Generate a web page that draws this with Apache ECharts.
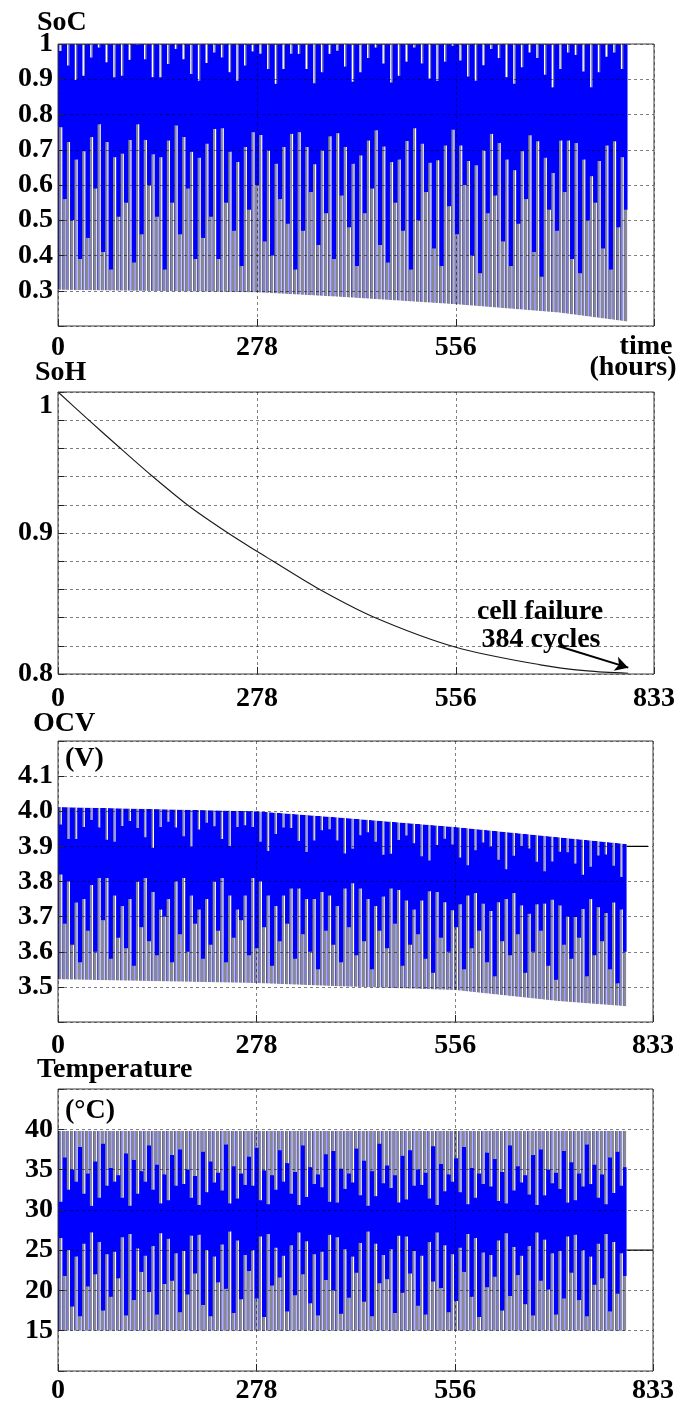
<!DOCTYPE html>
<html><head><meta charset="utf-8">
<script src="https://cdn.jsdelivr.net/npm/echarts@6/dist/echarts.min.js"></script>
<style>html,body{margin:0;padding:0;background:#fff}#c{width:679px;height:1407px}</style>
</head><body><div id="c"></div>
<script>
// ---------------- DATA ----------------
const xTicks = [0, 278, 556, 833];
// cycle stripes: one entry per visible cycle
const cycleStart = 3, cycleStep = 10.75;

// SoC
const socUpper = [[0, 1.0], [796, 1.0]];
const socLower = [[0, 0.303], [278, 0.296], [394, 0.283], [557, 0.262], [700, 0.238], [796, 0.213]];
const socTopDip = [0.98,0.939,0.898,0.91,0.962,0.99,0.948,0.906,0.91,0.955,0.997,0.957,0.906,0.906,0.943,0.986,0.957,0.915,0.896,0.946,0.976,0.962,0.92,0.896,0.939,0.979,0.972,0.929,0.887,0.929,0.972,0.972,0.929,0.889,0.92,0.972,0.981,
 0.936,0.893,0.92,0.96,0.99,0.945,0.891,0.91,0.95,0.99,0.945,0.902,0.896,0.95,0.995,0.953,0.908,0.896,0.94,0.986,0.96,0.906,0.887,0.934,0.976,0.96,0.913,0.877,0.929,0.976,0.969,0.922,0.877,0.92,0.964,0.976,0.929];
const socTall = [0.764,0.722,0.672,0.696,0.736,0.772,0.722,0.679,0.689,0.728,0.772,0.728,0.687,0.679,0.726,0.769,0.736,0.694,0.677,0.717,0.759,0.761,0.694,0.665,0.708,0.75,0.742,0.698,0.66,0.708,0.745,0.75,0.708,0.659,0.698,0.738,0.747,
 0.708,0.66,0.684,0.726,0.755,0.709,0.665,0.672,0.725,0.761,0.717,0.663,0.67,0.712,0.757,0.712,0.668,0.656,0.698,0.745,0.719,0.672,0.642,0.696,0.741,0.724,0.677,0.634,0.726,0.726,0.719,0.672,0.625,0.668,0.712,0.724,0.679];
const socShort = [0.56,0.50,0.39,0.45,0.59,0.41,0.36,0.51,0.55,0.38,0.46,0.60,0.51,0.36,0.55,0.46,0.59,0.39,0.45,0.51,0.39,0.55,0.47,0.37,0.53,0.60,0.44,0.40,0.56,0.49,0.36,0.47,0.58,0.43,0.52,0.39,0.57,
 0.48,0.37,0.52,0.59,0.43,0.38,0.55,0.47,0.36,0.50,0.58,0.42,0.37,0.54,0.46,0.60,0.40,0.35,0.52,0.57,0.44,0.37,0.49,0.56,0.41,0.34,0.53,0.47,0.58,0.39,0.35,0.50,0.55,0.42,0.36,0.48,0.53];

// SoH
const sohCurve = [[0,1.0],[40,0.9815],[84,0.9615],[129,0.9415],[182,0.9195],[236,0.9005],[278,0.887],[299,0.8805],[364,0.8605],[441,0.8405],[556,0.819],[674,0.8065],[740,0.8022],[797,0.8005]];
const failureArrow = [[699, 0.8199], [797, 0.8045]];

// OCV
const ocvUpper = [[0, 4.012], [278, 4.0], [394, 3.982], [556, 3.955], [796, 3.907]];
const ocvLower = [[0, 3.522], [278, 3.511], [394, 3.502], [556, 3.491], [700, 3.46], [796, 3.445]];
const ocvTopDip = [3.962,3.921,3.921,3.955,3.975,3.954,3.919,3.913,3.958,3.972,3.952,3.926,3.896,3.955,3.97,3.954,3.929,3.898,3.948,3.967,3.957,3.921,3.901,3.955,3.96,3.955,3.913,3.887,3.935,3.954,3.952,3.915,3.884,3.917,3.946,3.949,3.917,3.88,3.893,3.932,3.94,3.913,3.876,3.879,3.918,3.931,3.909,3.872,3.86,3.904,3.922,3.905,3.868,3.846,3.889,3.911,3.899,3.862,3.835,3.873,3.901,3.894,3.856,3.829,3.857,3.885,3.883,3.851,3.819,3.842,3.874,3.877,3.845,3.813];
const ocvTall = [3.82,3.80,3.74,3.75,3.79,3.81,3.81,3.76,3.73,3.75,3.80,3.81,3.77,3.72,3.75,3.80,3.81,3.76,3.72,3.75,3.80,3.81,3.76,3.72,3.76,3.81,3.80,3.76,3.73,3.76,3.78,3.78,3.75,3.75,3.77,3.76,
 3.73,3.78,3.795,3.78,3.75,3.73,3.757,3.78,3.776,3.746,3.72,3.746,3.772,3.77,3.741,3.718,3.735,3.76,3.767,3.737,3.716,3.741,3.75,3.767,3.732,3.708,3.735,3.737,3.748,3.732,3.70,3.699,3.722,3.75,3.727,3.71,3.74,3.72];
const ocvShort = [3.68,3.62,3.57,3.66,3.60,3.69,3.58,3.64,3.61,3.56,3.67,3.63,3.59,3.70,3.57,3.65,3.60,3.68,3.58,3.62,3.66,3.57,3.64,3.69,3.59,3.61,3.67,3.56,3.63,3.68,3.58,3.65,3.60,3.55,3.66,3.62,3.57,
 3.67,3.59,3.63,3.55,3.66,3.61,3.68,3.56,3.62,3.65,3.58,3.54,3.64,3.60,3.67,3.55,3.61,3.66,3.57,3.53,3.63,3.59,3.65,3.54,3.60,3.66,3.56,3.52,3.62,3.58,3.64,3.53,3.59,3.63,3.55,3.51,3.60];
const ocvRest = [[796, 3.9], [826, 3.9]];

// Temperature
const tempUpper = [[0, 39.8], [796, 39.8]];
const tempLower = [[0, 15.0], [796, 15.0]];
const tempTopTall = [31.0,32.5,33.5,32.0,30.5,31.5,33.0,33.5,31.5,30.5,32.0,33.5,32.5,30.8,31.2,33.0,33.2,31.5,30.6,32.2,33.4,32.4,30.8,31.4,33.1,33.0,31.2,30.7,32.5,33.5,32.0,30.6,31.6,33.2,32.8,31.0,30.9,
 32.6,33.4,31.8,30.5,31.7,33.3,32.7,30.9,31.3,33.0,33.1,31.4,30.6,32.3,33.5,32.2,30.7,31.5,33.2,32.9,31.1,30.8,32.4,33.4,31.9,30.6,31.8,33.3,32.6,30.9,31.2,32.9,33.2,31.5,30.7,32.1,33.0];
const tempTopShort = [36.5,35.0,37.8,34.5,36.0,38.2,35.2,34.3,37.0,36.2,34.8,38.0,35.6,34.4,36.8,37.5,35.0,34.2,37.2,36.0,34.6,38.1,35.4,34.5,36.6,37.7,34.9,34.3,37.4,35.8,34.7,38.0,35.3,34.4,36.9,37.3,35.1,
 34.5,37.6,36.1,34.8,38.2,35.5,34.3,36.7,37.4,35.0,34.6,37.9,35.7,34.4,36.4,37.8,35.2,34.5,37.1,36.3,34.7,38.0,35.4,34.3,36.8,37.5,35.0,34.6,37.3,35.9,34.5,38.1,35.6,34.4,36.5,37.2,35.3];
const tempBotTall = [26.5,25.0,24.2,25.8,27.2,26.0,24.5,24.8,26.6,27.0,25.2,24.3,25.5,27.1,26.4,24.6,24.9,26.8,26.9,25.0,24.2,25.7,27.3,26.2,24.4,25.0,26.7,27.0,25.3,24.3,25.6,27.2,26.1,24.5,24.8,26.9,26.6,
 25.1,24.2,25.9,27.3,25.8,24.4,25.1,26.8,26.7,24.9,24.3,26.0,27.2,25.6,24.5,25.3,27.0,26.5,24.7,24.4,26.2,27.1,25.4,24.3,25.5,27.2,26.3,24.6,24.9,26.7,26.9,25.0,24.2,25.8,27.0,26.0,24.6];
const tempBotShort = [21.8,18.0,16.8,20.5,22.0,17.5,19.2,21.5,16.9,18.8,22.3,19.8,17.0,20.8,21.2,17.3,19.5,22.1,18.2,16.8,21.0,20.2,17.2,18.9,22.4,19.0,16.7,20.6,21.6,17.4,19.4,22.0,18.4,16.9,21.3,20.0,17.1,
 19.1,22.2,18.6,16.8,20.9,21.4,17.2,19.7,22.1,18.1,17.0,21.1,20.3,17.3,18.7,22.3,19.2,16.7,20.4,21.7,17.5,19.3,21.9,18.3,16.9,21.2,20.1,17.0,19.0,22.2,18.8,16.8,20.7,21.5,17.4,19.6,21.8];
const tempRest = [[796, 25], [833, 25]];

// ---------------- CHART ----------------
const BLUE = '#0000ff', GRAY = '#8a8a8a';
const FONT = 'Liberation Serif';
const FS = 28;
const panels = [
  {min: 0.2, max: 1.0, interval: 0.1, top: 44, height: 282, width: 596, xMargin: 8, topAlign: false,
   fmt: v => (v < 0.25 ? '' : (Math.abs(v - 1) < 1e-9 ? '1' : v.toFixed(1)))},
  {min: 0.8, max: 1.0, interval: 0.02, top: 392, height: 282, width: 596, xMargin: 11, topAlign: true,
   fmt: v => (Math.abs(v - 1) < 1e-9 ? '1' : (Math.abs(v - 0.9) < 1e-9 ? '0.9' : (Math.abs(v - 0.8) < 1e-9 ? '0.8' : '')))},
  {min: 3.4, max: 4.2, interval: 0.1, top: 741, height: 281, width: 595, xMargin: 10, topAlign: false,
   fmt: v => (v < 3.45 || v > 4.15 ? '' : v.toFixed(1))},
  {min: 10, max: 45, interval: 5, top: 1089, height: 282, width: 595, xMargin: 6, topAlign: false,
   fmt: v => (v < 12 || v > 42 ? '' : String(Math.round(v)))}
];

const STRIPE = [
  {top: false, w: 2.0, fill: GRAY, edge: 1.2, edgeFill: '#fff'},   // 0 bottom tall
  {top: false, w: 2.8, fill: GRAY, edge: 1.0, edgeFill: '#fff'},   // 1 bottom short
  {top: true,  w: 1.5, fill: '#fff', edge: 1.0, edgeFill: GRAY},   // 2 top white dip
  {top: true,  w: 2.0, fill: GRAY, edge: 1.2, edgeFill: '#fff'},   // 3 top tall
  {top: true,  w: 2.8, fill: GRAY, edge: 1.0, edgeFill: '#fff'},   // 4 top short
  {top: true,  w: 1.4, fill: GRAY, edge: 1.0, edgeFill: '#fff'}    // 5 top gray dip
];

function stripes(arr, kind, half) {
  return arr.map((v, i) => [cycleStart + i * cycleStep + (half ? cycleStep / 2 : 0), v, kind]);
}

function bandSeries(idx, upper, lower) {
  return {type: 'custom', xAxisIndex: idx, yAxisIndex: idx, z: 1, silent: true,
    data: [upper[0]],
    renderItem: (params, api) => {
      const pts = upper.map(p => api.coord(p)).concat(lower.slice().reverse().map(p => api.coord(p)));
      return {type: 'polygon', shape: {points: pts}, style: {fill: BLUE}};
    }};
}
function maskSeries(idx, env, edgeVal) {
  return {type: 'custom', xAxisIndex: idx, yAxisIndex: idx, z: 3, silent: true,
    data: [env[0]],
    renderItem: (params, api) => {
      const first = env[0][0], last = env[env.length - 1][0];
      const pts = [api.coord([first - 3, edgeVal]), api.coord([first - 3, env[0][1]])]
        .concat(env.map(p => api.coord(p)))
        .concat([api.coord([last, edgeVal])]);
      return {type: 'polygon', shape: {points: pts}, style: {fill: '#fff'}};
    }};
}
function stripeSeries(idx, data) {
  const P = panels[idx];
  return {type: 'custom', xAxisIndex: idx, yAxisIndex: idx, z: 2, silent: true,
    encode: {x: 0, y: 1}, data: data,
    renderItem: (params, api) => {
      const x = api.value(0), v = api.value(1), st = STRIPE[api.value(2)];
      const p1 = api.coord([x, st.top ? P.max : P.min]);
      const p2 = api.coord([x, v]);
      const y0 = Math.min(p1[1], p2[1]), h = Math.abs(p2[1] - p1[1]);
      return {type: 'group', children: [
        {type: 'rect', shape: {x: p1[0] - st.w / 2, y: y0, width: st.w, height: h}, style: {fill: st.fill}},
        {type: 'rect', shape: {x: p1[0] + st.w / 2, y: y0, width: st.edge, height: h}, style: {fill: st.edgeFill}}
      ]};
    }};
}

const labelStyle = {fontFamily: FONT, fontWeight: 'bold', fontSize: FS, color: '#000'};
const gridLine = {show: true, lineStyle: {type: [3, 3], color: 'rgba(0,0,0,0.5)', width: 1}};

const grid = panels.map(p => ({left: 58, top: p.top, width: p.width, height: p.height,
  show: true, borderColor: '#3a3a3a', borderWidth: 1, backgroundColor: 'transparent', z: 6}));
const xAxis = panels.map((p, i) => ({type: 'value', gridIndex: i, min: xTicks[0], max: xTicks[3], interval: xTicks[1], z: 5,
  axisLine: {show: false}, axisTick: {inside: true, length: 7, lineStyle: {color: '#222'}},
  splitLine: gridLine,
  axisLabel: Object.assign({margin: p.xMargin, formatter: v => (i === 0 && v === 833 ? '' : String(v))}, labelStyle)}));
const yAxis = panels.map((p, i) => {
  const lab = Object.assign({margin: 5, formatter: p.fmt}, labelStyle);
  if (p.topAlign) lab.verticalAlignMaxLabel = 'top';
  return {type: 'value', gridIndex: i, min: p.min, max: p.max, interval: p.interval, z: 5,
    axisLine: {show: false}, axisTick: {inside: true, length: 6, lineStyle: {color: '#222'}},
    splitLine: gridLine, axisLabel: lab};
});

const series = [
  // SoC
  bandSeries(0, socUpper, socLower),
  stripeSeries(0, stripes(socTopDip, 2, false).concat(stripes(socTall, 0, false), stripes(socShort, 1, true))),
  maskSeries(0, socLower, 0.2),
  // SoH
  {type: 'line', xAxisIndex: 1, yAxisIndex: 1, data: sohCurve, smooth: 0.3, showSymbol: false, z: 4,
   lineStyle: {color: '#1a1a1a', width: 1.1},
   markLine: {silent: true, symbol: ['none', 'arrow'], symbolSize: [11, 13], animation: false,
     lineStyle: {color: '#000', width: 2, type: 'solid'}, label: {show: false},
     data: [[{coord: failureArrow[0]}, {coord: failureArrow[1]}]]}},
  // OCV
  bandSeries(2, ocvUpper, ocvLower),
  stripeSeries(2, stripes(ocvTopDip, 5, false).concat(stripes(ocvTall, 0, false), stripes(ocvShort, 1, true))),
  maskSeries(2, ocvLower, 3.4),
  maskSeries(2, ocvUpper, 4.2),
  {type: 'line', xAxisIndex: 2, yAxisIndex: 2, data: ocvRest, showSymbol: false, z: 4, lineStyle: {color: '#000', width: 1.2}},
  // Temperature
  bandSeries(3, tempUpper, tempLower),
  stripeSeries(3, stripes(tempTopTall, 3, false).concat(stripes(tempTopShort, 4, true), stripes(tempBotTall, 0, false), stripes(tempBotShort, 1, true))),
  maskSeries(3, tempLower, 10),
  maskSeries(3, tempUpper, 45),
  {type: 'line', xAxisIndex: 3, yAxisIndex: 3, data: tempRest, showSymbol: false, z: 4, lineStyle: {color: '#000', width: 1.2}}
];

const T = (text, x, y, align) => ({type: 'text', x: x, y: y, z: 10, silent: true,
  style: {text: text, font: 'bold ' + FS + 'px "Liberation Serif"', fill: '#000', align: align || 'left', verticalAlign: 'top'}});
const graphic = [
  T('SoC', 37, 9), T('time', 646, 333, 'center'), T('(hours)', 633, 354, 'center'),
  T('SoH', 35, 359), T('cell failure', 540, 598, 'center'), T('384 cycles', 541, 626, 'center'),
  T('OCV', 33, 710), T('(V)', 65, 745),
  T('Temperature', 37, 1056), T('(°C)', 65, 1097)
];

const chart = echarts.init(document.getElementById('c'), null, {renderer: 'canvas'});
chart.setOption({animation: false, backgroundColor: '#fff', grid, xAxis, yAxis, series, graphic});
</script></body></html>
